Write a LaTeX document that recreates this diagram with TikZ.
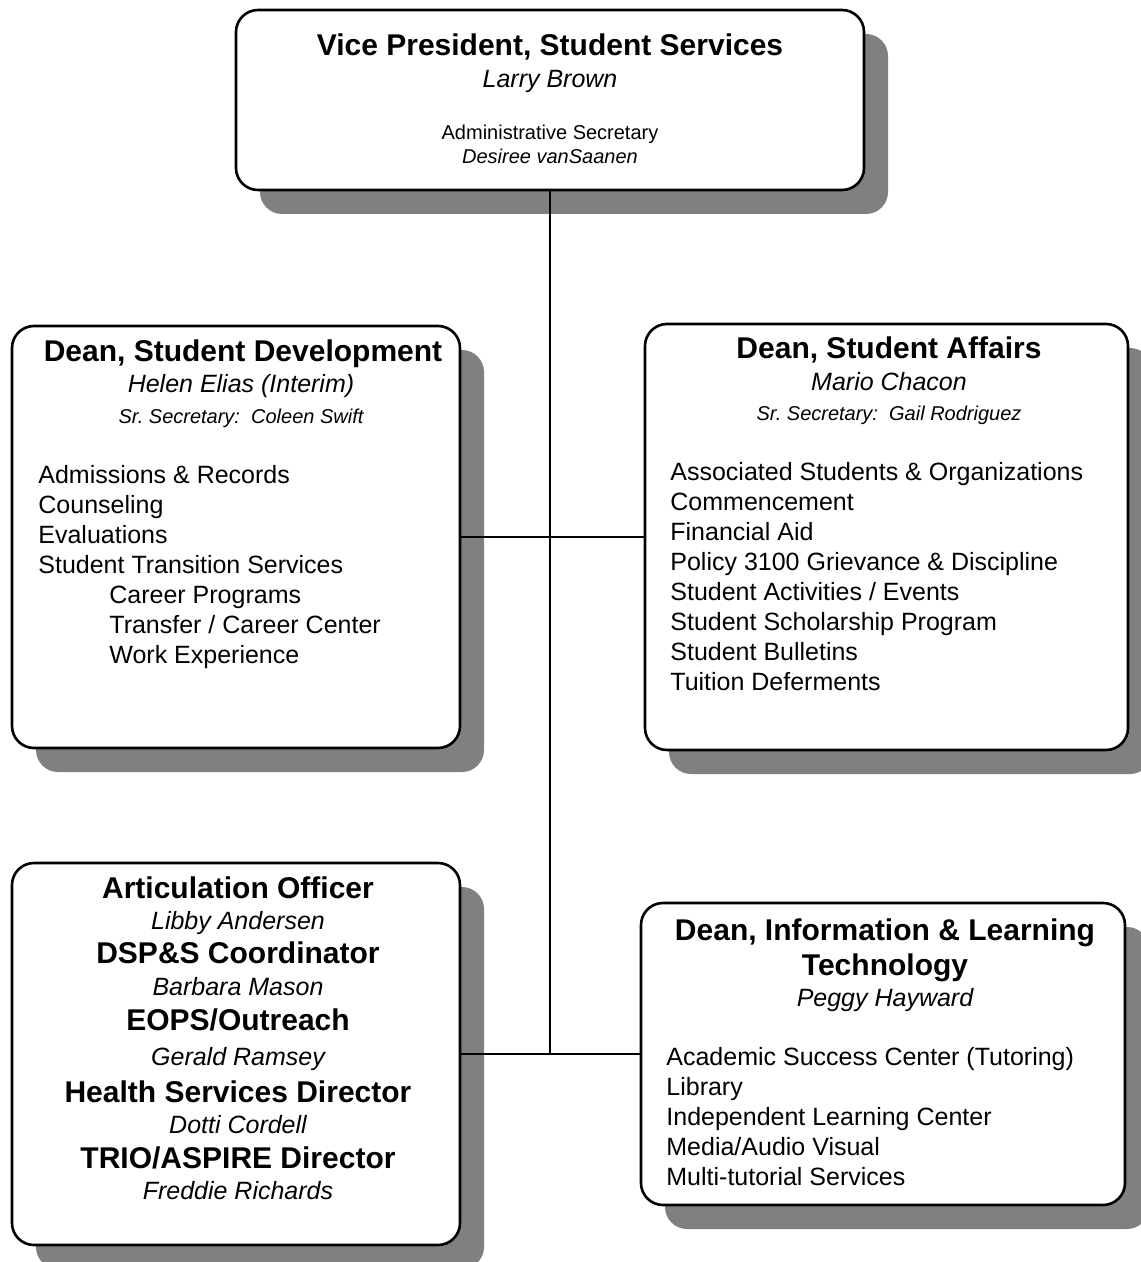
\documentclass[tikz,border=0pt]{standalone}
\usepackage{fontspec}
\setmainfont{Liberation Sans}
\usetikzlibrary{shadows}
\frenchspacing

\begin{document}
\begin{tikzpicture}[x=0.5pt,y=-0.5pt]
    \tikzstyle{unit box}=[draw,line width=1.3pt,fill=white,rounded corners=11pt,
        drop shadow={shadow xshift=12pt,shadow yshift=-12pt,fill=black!50,opacity=1}]
    \tikzstyle{head}=[inner sep=0,anchor=base,font=\fontsize{15}{18}\selectfont\bfseries]
    \tikzstyle{person}=[inner sep=0,anchor=base,font=\fontsize{12.5}{15}\selectfont\itshape]
    \tikzstyle{secr}=[inner sep=0,anchor=base,font=\fontsize{10}{12}\selectfont]
    \tikzstyle{item}=[inner sep=0,anchor=base west,font=\fontsize{12.5}{15}\selectfont]
    \useasboundingbox (0,0) rectangle (1140,1262);

    % boxes
    \node(vp)[unit box,minimum width=314pt,minimum height=90pt] at (550,100){};
    \node(sd)[unit box,minimum width=224pt,minimum height=211pt] at (236,537){};
    \node(sa)[unit box,minimum width=241.5pt,minimum height=213pt] at (886.5,537){};
    \node(spec)[unit box,minimum width=224pt,minimum height=191pt] at (236,1054){};
    \node(ilt)[unit box,minimum width=242pt,minimum height=151pt] at (883,1054){};

    % connectors
    \draw[line width=0.6pt] (vp.south) -- (vp.south |- spec.east);
    \draw[line width=0.6pt] (sd.east) -- (sa.west);
    \draw[line width=0.6pt] (spec.east) -- (ilt.west);

    % vice president
    \node(vp-t)[head] at (550,56){Vice President, Student Services};
    \node(vp-n)[person] at (550,88){Larry Brown};
    \node(vp-s)[secr] at (550,140){Administrative Secretary};
    \node(vp-sn)[secr,font=\itshape] at (550,164){Desiree vanSaanen};

    % student development
    \node(sd-t)[head] at (243,362){Dean, Student Development};
    \node(sd-n)[person] at (241,393){Helen Elias (Interim)};
    \node(sd-s)[secr,font=\itshape] at (241,423){Sr. Secretary:\ \ Coleen Swift};
    \foreach \txt [count=\i from 0] in {Admissions \& Records,Counseling,Evaluations,Student Transition Services}
        \node(sd-\i)[item] at (38,{483+30*\i}){\txt};
    \foreach \txt [count=\i from 4] in {Career Programs,Transfer / Career Center,Work Experience}
        \node(sd-\i)[item] at (109,{483+30*\i}){\txt};

    % student affairs
    \node(sa-t)[head] at (889,358){Dean, Student Affairs};
    \node(sa-n)[person] at (889,390){Mario Chacon};
    \node(sa-s)[secr,font=\itshape] at (889,420){Sr. Secretary:\ \ Gail Rodriguez};
    \foreach \txt [count=\i from 0] in {Associated Students \& Organizations,Commencement,Financial Aid,
        Policy 3100 Grievance \& Discipline,Student Activities / Events,Student Scholarship Program,
        Student Bulletins,Tuition Deferments}
        \node(sa-\i)[item] at (670,{480+30*\i}){\txt};

    % coordinators
    \node(spec-t1)[head] at (238,898){Articulation Officer};
    \node(spec-n1)[person] at (238,929){Libby Andersen};
    \node(spec-t2)[head] at (238,963){DSP\&S Coordinator};
    \node(spec-n2)[person] at (238,995){Barbara Mason};
    \node(spec-t3)[head] at (238,1030){EOPS/Outreach};
    \node(spec-n3)[person] at (238,1065){Gerald Ramsey};
    \node(spec-t4)[head] at (238,1102){Health Services Director};
    \node(spec-n4)[person] at (238,1133){Dotti Cordell};
    \node(spec-t5)[head] at (238,1168){TRIO/ASPIRE Director};
    \node(spec-n5)[person] at (238,1199){Freddie Richards};

    % information & learning technology
    \node(ilt-t1)[head] at (885,940){Dean, Information \& Learning};
    \node(ilt-t2)[head] at (885,975){Technology};
    \node(ilt-n)[person] at (885,1006){Peggy Hayward};
    \foreach \txt [count=\i from 0] in {Academic Success Center (Tutoring),Library,Independent Learning Center,
        Media/Audio Visual,Multi-tutorial Services}
        \node(ilt-\i)[item] at (666,{1065+30*\i}){\txt};
\end{tikzpicture}
\end{document}
